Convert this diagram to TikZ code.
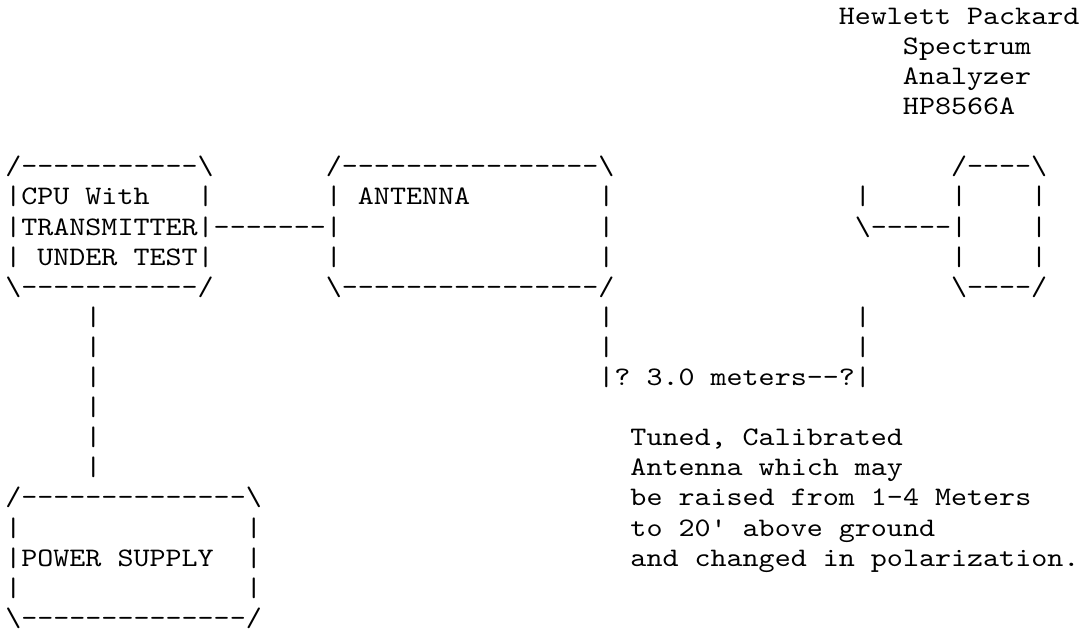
\documentclass[tikz,border=0pt]{standalone}
\usepackage{fontspec}
\setmonofont{lmmono10-regular.otf}[FakeStretch=1.1429]
\newcommand\asc[4]{\node[ascii] (#1) at ({5.3+16.03*#2},{24.3+30.1*#3}) {#4};}
\newcommand\bs{\textbackslash}
\begin{document}
\begin{tikzpicture}[x=0.5pt,y=-0.5pt,
  ascii/.style={anchor=base west,inner sep=0pt,outer sep=0pt,
    font=\ttfamily\fontsize{13.36pt}{15pt}\selectfont,text=black}]
\useasboundingbox[fill=white] (0,0) rectangle (1088,631);
% Spectrum analyzer caption
\asc{hp1}{52}{0}{Hewlett Packard}
\asc{hp2}{56}{1}{Spectrum}
\asc{hp3}{56}{2}{Analyzer}
\asc{hp4}{56}{3}{HP8566A}
% line 5
\asc{cpuT}{0}{5}{/-----------\bs}
\asc{antT}{20}{5}{/----------------\bs}
\asc{anaT}{59}{5}{/----\bs}
% line 6
\asc{cpuA}{0}{6}{|CPU With}
\asc{cpuAr}{12}{6}{|}
\asc{antA}{20}{6}{| ANTENNA}
\asc{antAr}{37}{6}{|}
\asc{cabA}{53}{6}{|}
\asc{anaAl}{59}{6}{|}
\asc{anaAr}{64}{6}{|}
% line 7
\asc{cpuB}{0}{7}{|TRANSMITTER|-------|}
\asc{antBr}{37}{7}{|}
\asc{cabB}{53}{7}{\bs-----|}
\asc{anaBr}{64}{7}{|}
% line 8
\asc{cpuC}{0}{8}{| UNDER TEST|}
\asc{antCl}{20}{8}{|}
\asc{antCr}{37}{8}{|}
\asc{anaCl}{59}{8}{|}
\asc{anaCr}{64}{8}{|}
% line 9
\asc{cpuD}{0}{9}{\bs-----------/}
\asc{antD}{20}{9}{\bs----------------/}
\asc{anaD}{59}{9}{\bs----/}
% lines 10-13
\asc{pw10}{5}{10}{|}
\asc{ml10}{37}{10}{|}
\asc{mr10}{53}{10}{|}
\asc{pw11}{5}{11}{|}
\asc{ml11}{37}{11}{|}
\asc{mr11}{53}{11}{|}
\asc{pw12}{5}{12}{|}
\asc{meas}{37}{12}{|? 3.0 meters--?|}
\asc{pw13}{5}{13}{|}
% lines 14-15
\asc{pw14}{5}{14}{|}
\asc{note1}{39}{14}{Tuned, Calibrated}
\asc{pw15}{5}{15}{|}
\asc{note2}{39}{15}{Antenna which may}
% power supply box and notes
\asc{psT}{0}{16}{/--------------\bs}
\asc{note3}{39}{16}{be raised from 1-4 Meters}
\asc{psAl}{0}{17}{|}
\asc{psAr}{15}{17}{|}
\asc{note4}{39}{17}{to 20' above ground}
\asc{psB}{0}{18}{|POWER SUPPLY}
\asc{psBr}{15}{18}{|}
\asc{note5}{39}{18}{and changed in polarization.}
\asc{psCl}{0}{19}{|}
\asc{psCr}{15}{19}{|}
\asc{psD}{0}{20}{\bs--------------/}
\end{tikzpicture}
\end{document}
